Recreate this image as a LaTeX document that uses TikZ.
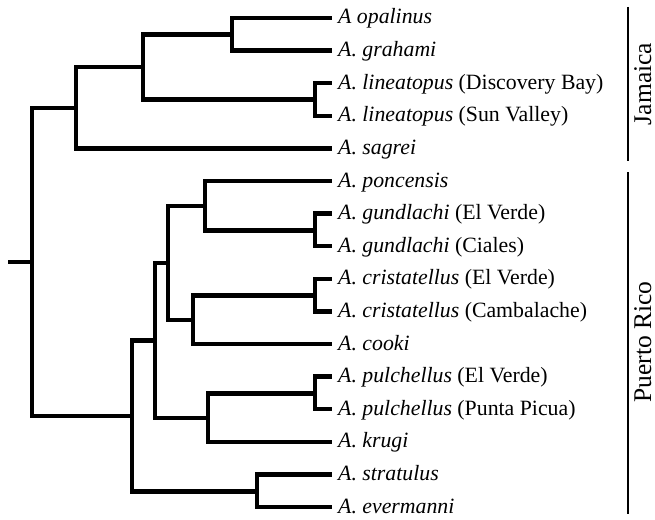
\documentclass[tikz,border=0pt]{standalone}
\usepackage{fontspec}
\setmainfont{Liberation Serif}
\begin{document}
\begin{tikzpicture}[x=1pt,y=-1pt,
  branch/.style={line width=4.5pt,line cap=rect,line join=miter},
  bar/.style={line width=1.2pt},
  leaf/.style={anchor=base west,inner sep=0pt,font=\fontsize{21.8}{26}\selectfont},
  region/.style={rotate=90,anchor=base,inner sep=0pt,text depth=0pt,font=\fontsize{25.5}{30}\selectfont}]
\useasboundingbox (0,0) rectangle (655,519);
% leaves
\foreach \i/\nm in {0/l0,1/l1,2/l2,3/l3,4/l4,5/l5,6/l6,7/l7,8/l8,9/l9,10/l10,11/l11,12/l12,13/l13,14/l14,15/l15}
  \coordinate (\nm) at (330,{18+32.6*\i});
% internal nodes
\coordinate (n1) at (232,34.3);
\coordinate (n2) at (315,99.7);
\coordinate (n3) at (143,67);
\coordinate (n4) at (76,108);
\coordinate (g)  at (315,230.3);
\coordinate (n5) at (205,205.8);
\coordinate (c)  at (315,295.7);
\coordinate (n6) at (193,320);
\coordinate (n7) at (168,263);
\coordinate (p)  at (315,393.7);
\coordinate (n8) at (208,418);
\coordinate (n9) at (155,340.5);
\coordinate (s)  at (257,491.5);
\coordinate (n10) at (132,416);
\coordinate (root) at (32,262);
\coordinate (stub) at (10,262);
% tree
\draw[branch] (stub) -- (root);
\draw[branch] (root) |- (n4);
\draw[branch] (root) |- (n10);
\draw[branch] (n4) |- (n3);
\draw[branch] (n4) |- (l4);
\draw[branch] (n3) |- (n1);
\draw[branch] (n3) |- (n2);
\draw[branch] (n1) |- (l0);
\draw[branch] (n1) |- (l1);
\draw[branch] (n2) |- (l2);
\draw[branch] (n2) |- (l3);
\draw[branch] (n10) |- (n9);
\draw[branch] (n10) |- (s);
\draw[branch] (s) |- (l14);
\draw[branch] (s) |- (l15);
\draw[branch] (n9) |- (n7);
\draw[branch] (n9) |- (n8);
\draw[branch] (n7) |- (n5);
\draw[branch] (n7) |- (n6);
\draw[branch] (n5) |- (l5);
\draw[branch] (n5) |- (g);
\draw[branch] (g) |- (l6);
\draw[branch] (g) |- (l7);
\draw[branch] (n6) |- (c);
\draw[branch] (n6) |- (l10);
\draw[branch] (c) |- (l8);
\draw[branch] (c) |- (l9);
\draw[branch] (n8) |- (p);
\draw[branch] (n8) |- (l13);
\draw[branch] (p) |- (l11);
\draw[branch] (p) |- (l12);
% labels
\tikzset{lsh/.style={shift={(8,6)}}}
\node[leaf] (t0) at ([lsh]l0) {\textit{A opalinus}};
\node[leaf] (t1) at ([lsh]l1) {\textit{A. grahami}};
\node[leaf] (t2) at ([lsh]l2) {\textit{A. lineatopus} (Discovery Bay)};
\node[leaf] (t3) at ([lsh]l3) {\textit{A. lineatopus} (Sun Valley)};
\node[leaf] (t4) at ([lsh]l4) {\textit{A. sagrei}};
\node[leaf] (t5) at ([lsh]l5) {\textit{A. poncensis}};
\node[leaf] (t6) at ([lsh]l6) {\textit{A. gundlachi} (El Verde)};
\node[leaf] (t7) at ([lsh]l7) {\textit{A. gundlachi} (Ciales)};
\node[leaf] (t8) at ([lsh]l8) {\textit{A. cristatellus} (El Verde)};
\node[leaf] (t9) at ([lsh]l9) {\textit{A. cristatellus} (Cambalache)};
\node[leaf] (t10) at ([lsh]l10) {\textit{A. cooki}};
\node[leaf] (t11) at ([lsh]l11) {\textit{A. pulchellus} (El Verde)};
\node[leaf] (t12) at ([lsh]l12) {\textit{A. pulchellus} (Punta Picua)};
\node[leaf] (t13) at ([lsh]l13) {\textit{A. krugi}};
\node[leaf] (t14) at ([lsh]l14) {\textit{A. stratulus}};
\node[leaf] (t15) at ([lsh]l15) {\textit{A. evermanni}};
% region bars
\coordinate (ja) at (628,7);
\coordinate (jb) at (628,161);
\coordinate (pa) at (628,172);
\coordinate (pb) at (628,514);
\draw[bar] (ja) -- (jb);
\draw[bar] (pa) -- (pb);
\node[region] (jam) at (651,84) {Jamaica};
\node[region] (pr) at (651,342) {Puerto Rico};
\end{tikzpicture}
\end{document}
